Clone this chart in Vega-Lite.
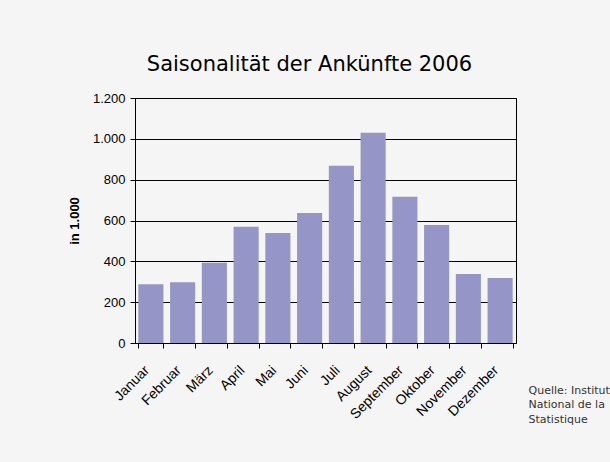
{
  "$schema": "https://vega.github.io/schema/vega-lite/v6.json",
  "width": 381,
  "height": 245,
  "autosize": {"type": "none"},
  "padding": {"left": 135, "top": 98, "right": 94, "bottom": 119},
  "background": "#f5f5f5",
  "title": {
    "text": "Saisonalität der Ankünfte 2006",
    "font": "DejaVu Sans",
    "fontSize": 21,
    "fontWeight": "normal",
    "color": "#000000",
    "anchor": "middle",
    "frame": "group",
    "dx": -16,
    "offset": 17
  },
  "data": {
    "values": [
      {"Monat": "Januar", "Ankuenfte": 288},
      {"Monat": "Februar", "Ankuenfte": 298},
      {"Monat": "März", "Ankuenfte": 393},
      {"Monat": "April", "Ankuenfte": 569},
      {"Monat": "Mai", "Ankuenfte": 539},
      {"Monat": "Juni", "Ankuenfte": 637},
      {"Monat": "Juli", "Ankuenfte": 868},
      {"Monat": "August", "Ankuenfte": 1030},
      {"Monat": "September", "Ankuenfte": 716},
      {"Monat": "Oktober", "Ankuenfte": 578},
      {"Monat": "November", "Ankuenfte": 338},
      {"Monat": "Dezember", "Ankuenfte": 318}
    ]
  },
  "mark": {"type": "bar", "color": "#9595c7"},
  "encoding": {
    "x": {
      "field": "Monat",
      "type": "nominal",
      "sort": null,
      "scale": {"paddingInner": 0.21, "paddingOuter": 0.105},
      "axis": {
        "title": ["Quelle: Institut", "National de la", "Statistique"],
        "titleX": 393,
        "titleY": 41,
        "titleAlign": "left",
        "titleBaseline": "top",
        "titleFont": "DejaVu Sans",
        "titleFontSize": 11,
        "titleFontWeight": "normal",
        "titleColor": "#333333",
        "titleLineHeight": 14.5,
        "labelAngle": -45,
        "labelFont": "Liberation Sans",
        "labelFontSize": 14,
        "labelColor": "#000000",
        "labelPadding": 15,
        "labelOffset": -9,
        "tickBand": "extent",
        "tickSize": 5,
        "tickColor": "#000000",
        "domainColor": "#000000",
        "grid": false
      }
    },
    "y": {
      "field": "Ankuenfte",
      "type": "quantitative",
      "scale": {"domain": [0, 1200]},
      "axis": {
        "title": "in 1.000",
        "titleFont": "Liberation Sans",
        "titleFontSize": 13,
        "titleFontWeight": "bold",
        "titleColor": "#000000",
        "titlePadding": 11,
        "values": [0, 200, 400, 600, 800, 1000, 1200],
        "labelExpr": "replace(format(datum.value, ','), ',', '.')",
        "labelFont": "Liberation Sans",
        "labelFontSize": 13,
        "labelColor": "#000000",
        "labelPadding": 5,
        "tickSize": 5,
        "tickColor": "#000000",
        "domainColor": "#000000",
        "gridColor": "#000000",
        "gridOpacity": 1
      }
    }
  },
  "config": {
    "view": {"stroke": "#000000", "strokeWidth": 1}
  }
}
